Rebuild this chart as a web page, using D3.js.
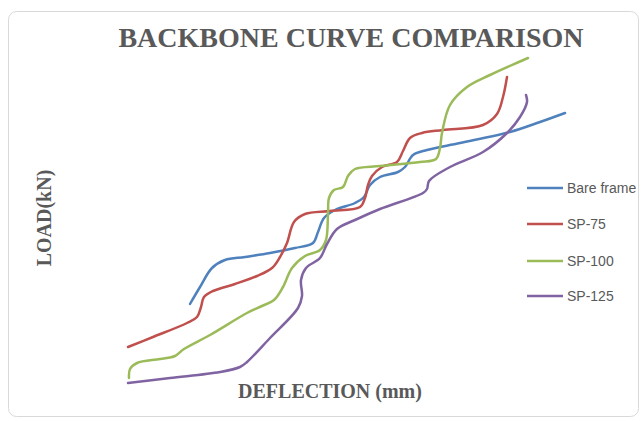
<!DOCTYPE html>
<html>
<head>
<meta charset="utf-8">
<script src="https://cdn.jsdelivr.net/npm/d3@7"></script>
<style>
  html, body { margin: 0; padding: 0; background: #fff; }
  svg { display: block; }
</style>
</head>
<body>
<svg id="chart" width="642" height="421"></svg>
<script>
// ---- Data (deflection, load) ----
const seriesNames = ["Bare frame", "SP-75", "SP-100", "SP-125"];

const bareFrame = [
  [14,96],[16,113],[18.4,132],[21,140],[25,143],[30,147],[35,152],[38.6,157],
  [39.6,168],[40.8,182],[43,190],[47,197],[48.8,203],[50,215],[52,223],[55.6,228],
  [57,233],[58.6,245],[61.4,250],[68,257],[78,268],[84,278],[89,287]
];
const sp75 = [
  [1.6,53],[6.6,63],[13.4,77],[15.4,83],[16.2,93],[16.8,103],[18.6,109],[23,116],
  [27.4,124],[30.4,132],[32,143],[33.4,157],[34.8,178],[37,186],[42,189],[48,193],
  [49,202],[49.6,215],[50.4,224],[52.4,233],[55.4,238],[56.6,249],[58,262],[60.4,267],
  [64.6,270],[72.6,275],[75.4,286],[76.6,303],[77.4,323]
];
const sp100 = [
  [1.8,22],[2,31],[3.4,37],[8,41],[11,44],[12.8,51],[18,65],[25.4,87],[28.4,94],
  [30.8,100],[32.6,113],[34.4,132],[37,144],[40,150],[41.2,160],[41.6,185],[41.8,202],
  [42.8,210],[44.6,213],[45.6,224],[47,231],[52,234],[60,238],[63.2,241],[64,252],
  [64.4,267],[66,295],[69.4,313],[74,325],[81.6,342]
];
const sp125 = [
  [1.6,17],[10,22],[20,28],[24,33],[25.4,38],[30,62],[35.6,92],[36.4,104],[36.2,120],
  [37.2,132],[40,142],[41.4,156],[43.4,171],[47,180],[52,191],[60.6,207],[61.4,211],
  [61.8,219],[66,233],[72.6,248],[77.4,267],[80,283],[81.4,298],[81.2,305]
];
const seriesData = [bareFrame, sp75, sp100, sp125];
const colors = ["#4F81BD", "#C0504D", "#9BBB59", "#8064A2"];

const svg = d3.select("#chart");

// Chart border
svg.append("rect")
  .attr("x", 8.5).attr("y", 11.5)
  .attr("width", 630).attr("height", 405)
  .attr("rx", 8).attr("ry", 8)
  .attr("fill", "#fff")
  .attr("stroke", "#d9d9d9").attr("stroke-width", 1);

// Scales (no visible axes in the reference)
const x = d3.scaleLinear().domain([0, 100]).range([120, 620]);
const y = d3.scaleLinear().domain([0, 350]).range([400, 50]);

const line = d3.line()
  .x(d => x(d[0])).y(d => y(d[1]))
  .curve(d3.curveCatmullRom.alpha(0.5));

svg.append("g").selectAll("path")
  .data(seriesData)
  .join("path")
  .attr("d", d => line(d))
  .attr("fill", "none")
  .attr("stroke", (d, i) => colors[i])
  .attr("stroke-width", 2.5)
  .attr("stroke-linecap", "round")
  .attr("stroke-linejoin", "round");

// Title
svg.append("text")
  .attr("x", 351).attr("y", 47)
  .attr("text-anchor", "middle")
  .attr("font-family", "'Liberation Serif', 'Times New Roman', serif")
  .attr("font-weight", "bold")
  .attr("font-size", 28)
  .attr("fill", "#595959")
  .text("BACKBONE CURVE COMPARISON");

// Axis titles
svg.append("text")
  .attr("x", 330).attr("y", 398)
  .attr("text-anchor", "middle")
  .attr("font-family", "'Liberation Serif', 'Times New Roman', serif")
  .attr("font-weight", "bold")
  .attr("font-size", 20)
  .attr("fill", "#595959")
  .text("DEFLECTION (mm)");

svg.append("text")
  .attr("transform", "translate(51,218) rotate(-90)")
  .attr("text-anchor", "middle")
  .attr("font-family", "'Liberation Serif', 'Times New Roman', serif")
  .attr("font-weight", "bold")
  .attr("font-size", 20)
  .attr("fill", "#595959")
  .text("LOAD(kN)");

// Legend
const legendY = [188, 224, 261, 296];
const lg = svg.append("g").selectAll("g")
  .data(seriesNames)
  .join("g")
  .attr("transform", (d, i) => `translate(527,${legendY[i]})`);
lg.append("line")
  .attr("x1", 0).attr("x2", 36).attr("y1", 0).attr("y2", 0)
  .attr("stroke", (d, i) => colors[i])
  .attr("stroke-width", 2.5);
lg.append("text")
  .attr("x", 40).attr("y", 5)
  .attr("font-family", "'Liberation Sans', Arial, sans-serif")
  .attr("font-size", 14)
  .attr("fill", "#595959")
  .text(d => d);
</script>
</body>
</html>
